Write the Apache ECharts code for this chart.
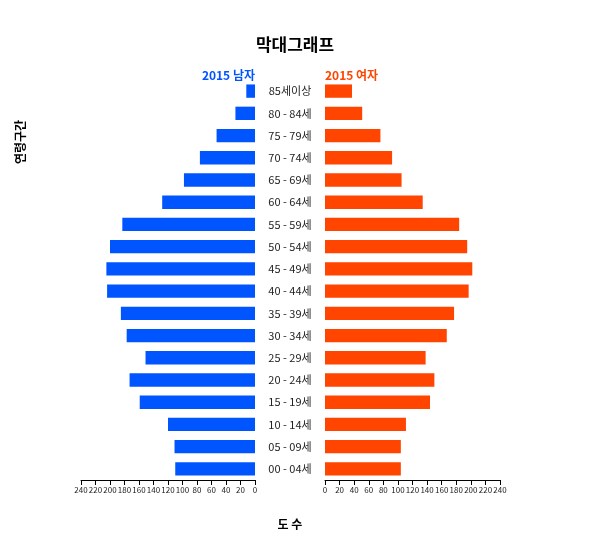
<!DOCTYPE html>
<html>
<head>
<meta charset="utf-8">
<script src="https://cdn.jsdelivr.net/npm/echarts@6/dist/echarts.min.js"></script>
<style>html,body{margin:0;padding:0;background:#fff;}#c{width:600px;height:560px;}</style>
</head>
<body>
<div id="c"></div>
<script>
const categories = ['00 - 04세','05 - 09세','10 - 14세','15 - 19세','20 - 24세','25 - 29세','30 - 34세','35 - 39세','40 - 44세','45 - 49세','50 - 54세','55 - 59세','60 - 64세','65 - 69세','70 - 74세','75 - 79세','80 - 84세','85세이상'];
const male =   [110, 111, 120, 159, 173, 151, 177, 185, 204, 205, 200, 183, 128, 98, 76, 53, 27, 12];
const female = [104, 104, 111, 144, 150, 138, 167, 177, 197, 202, 195, 184, 134, 105, 92, 76, 51, 37];
const maleName = '2015 남자';
const femaleName = '2015 여자';
const FONT = '"Noto Sans CJK KR", "Noto Sans", sans-serif';

const chart = echarts.init(document.getElementById('c'));
const xCommon = {
  type: 'value', min: 0, max: 240, interval: 20,
  axisLine: {show: true, lineStyle: {color: '#000'}},
  axisTick: {show: true, length: 5, lineStyle: {color: '#000'}},
  splitLine: {show: false},
  axisLabel: {fontSize: 8, color: '#222', fontFamily: FONT, margin: 6}
};
chart.setOption({
  animation: false,
  title: {
    text: '막대그래프', left: 290, top: 31, textAlign: 'center',
    textStyle: {fontSize: 17, fontWeight: 'bold', color: '#000', fontFamily: FONT}
  },
  grid: [
    {left: 81, right: 345, top: 80, bottom: 80},
    {left: 325, right: 100, top: 80, bottom: 80}
  ],
  xAxis: [
    Object.assign({gridIndex: 0, inverse: true}, xCommon),
    Object.assign({gridIndex: 1}, xCommon)
  ],
  yAxis: [
    {type: 'category', gridIndex: 0, data: categories, position: 'right',
     axisLine: {show: false}, axisTick: {show: false},
     axisLabel: {align: 'center', margin: 35, fontSize: 11, color: '#222', fontFamily: FONT}},
    {type: 'category', gridIndex: 1, data: categories,
     axisLine: {show: false}, axisTick: {show: false}, axisLabel: {show: false}}
  ],
  series: [
    {name: maleName, type: 'bar', xAxisIndex: 0, yAxisIndex: 0, data: male, barWidth: '60%', itemStyle: {color: '#0055ff'}},
    {name: femaleName, type: 'bar', xAxisIndex: 1, yAxisIndex: 1, data: female, barWidth: '60%', itemStyle: {color: '#ff4500'}}
  ],
  graphic: [
    {type: 'text', x: 255, y: 75, style: {text: maleName, fill: '#0055ff', font: 'bold 12px ' + FONT, textAlign: 'right', textVerticalAlign: 'middle'}},
    {type: 'text', x: 325, y: 75, style: {text: femaleName, fill: '#ff4500', font: 'bold 12px ' + FONT, textAlign: 'left', textVerticalAlign: 'middle'}},
    {type: 'text', x: 20, y: 142, rotation: Math.PI / 2, style: {text: '연령구간', fill: '#000', font: 'bold 12px ' + FONT, textAlign: 'center', textVerticalAlign: 'middle'}},
    {type: 'text', x: 290, y: 524, style: {text: '도 수', fill: '#000', font: 'bold 12px ' + FONT, textAlign: 'center', textVerticalAlign: 'middle'}}
  ]
});
</script>
</body>
</html>
